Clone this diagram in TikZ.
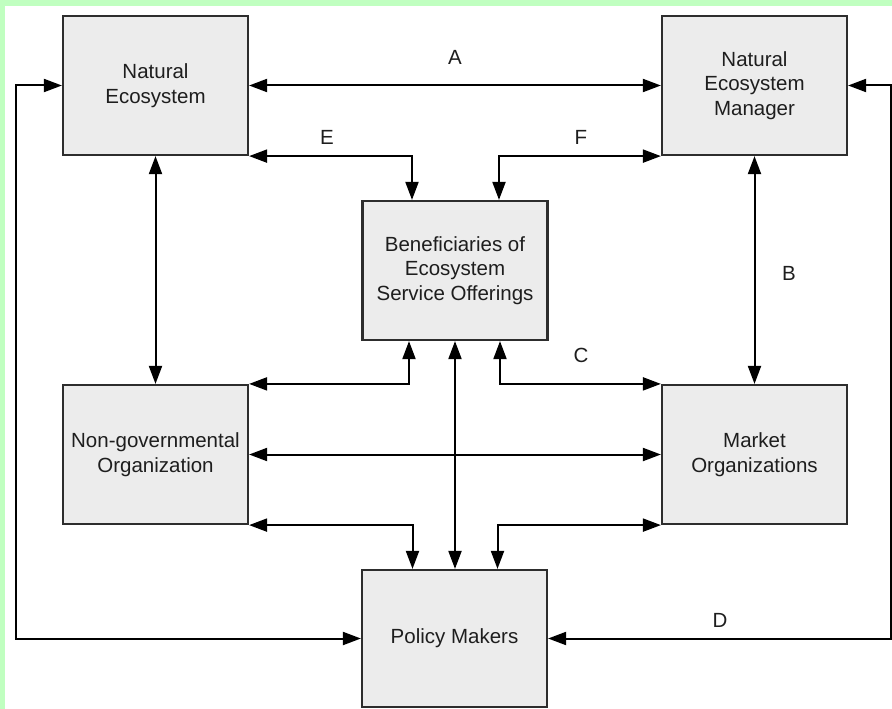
\documentclass[tikz,border=0pt]{standalone}
\usepackage{fontspec}
\setmainfont{Liberation Sans}
\usetikzlibrary{arrows.meta,calc}
\definecolor{bggreen}{RGB}{192,255,192}
\definecolor{boxfill}{RGB}{236,236,236}
\definecolor{boxdraw}{RGB}{45,45,45}
\definecolor{txt}{RGB}{30,30,30}
\begin{document}
\begin{tikzpicture}[x=1pt,y=-1pt,
  entity/.style={draw=boxdraw,fill=boxfill,line width=2.2pt,minimum width=185pt,minimum height=139pt,
    inner sep=0pt,align=center,text=txt,font=\fontsize{20.5}{24.5}\selectfont},
  lbl/.style={text=txt,font=\fontsize{20.5}{24.5}\selectfont,inner sep=0pt},
  conn/.style={draw=black,line width=2pt,{Triangle[length=18pt,width=13pt]}-{Triangle[length=18pt,width=13pt]}}]
\useasboundingbox (0,0) rectangle (892,709);
\fill[white] (0,0) rectangle (892,709);
\fill[bggreen] (0,0) rectangle (892,6);
\fill[bggreen] (0,0) rectangle (5,709);

\node[entity] (NE) at (155.5,85.5) {Natural\\Ecosystem};
\node[entity] (NEM) at (754.5,85.5) {Natural\\Ecosystem\\Manager};
\node[entity] (BEN) at (455,270.5) {Beneficiaries of\\Ecosystem\\Service Offerings};
\node[entity] (NGO) at (155.5,454.5) {Non-governmental\\Organization};
\node[entity] (MO) at (754.5,454.5) {Market\\Organizations};
\node[entity,minimum height=137pt] (PM) at (454.5,638.5) {Policy Makers};

\coordinate (L) at (16,300);
\coordinate (R) at (891,300);

\node[lbl] (lA) at (455,57) {A};
\node[lbl] (lE) at (327,137) {E};
\node[lbl] (lF) at (581,137) {F};
\node[lbl] (lB) at (789,273) {B};
\node[lbl] (lC) at (581,355) {C};
\node[lbl] (lD) at (720,620) {D};

\draw[conn] (NE.east) -- (NEM.east -| NEM.west);
\draw[conn] (NE.south east) -| ([xshift=-43pt]BEN.north);
\draw[conn] (NEM.south west) -| ([xshift=44pt]BEN.north);
\draw[conn] (NE.south) -- (NGO.north);
\draw[conn] (NEM.south) -- (MO.north);
\draw[conn] ([xshift=-46pt]BEN.south) |- (NGO.north east);
\draw[conn] ([xshift=45pt]BEN.south) |- (MO.north west);
\draw[conn] (BEN.south) -- (BEN.south |- PM.north);
\draw[conn] (NGO.east) -- (MO.west);
\draw[conn] (NGO.south east) -| ([xshift=-42pt]PM.north);
\draw[conn] (MO.south west) -| ([xshift=43pt]PM.north);
\draw[conn] (NE.west) -| (L) |- (PM.west);
\draw[conn] (NEM.east) -| (R) |- (PM.east);
\end{tikzpicture}
\end{document}
